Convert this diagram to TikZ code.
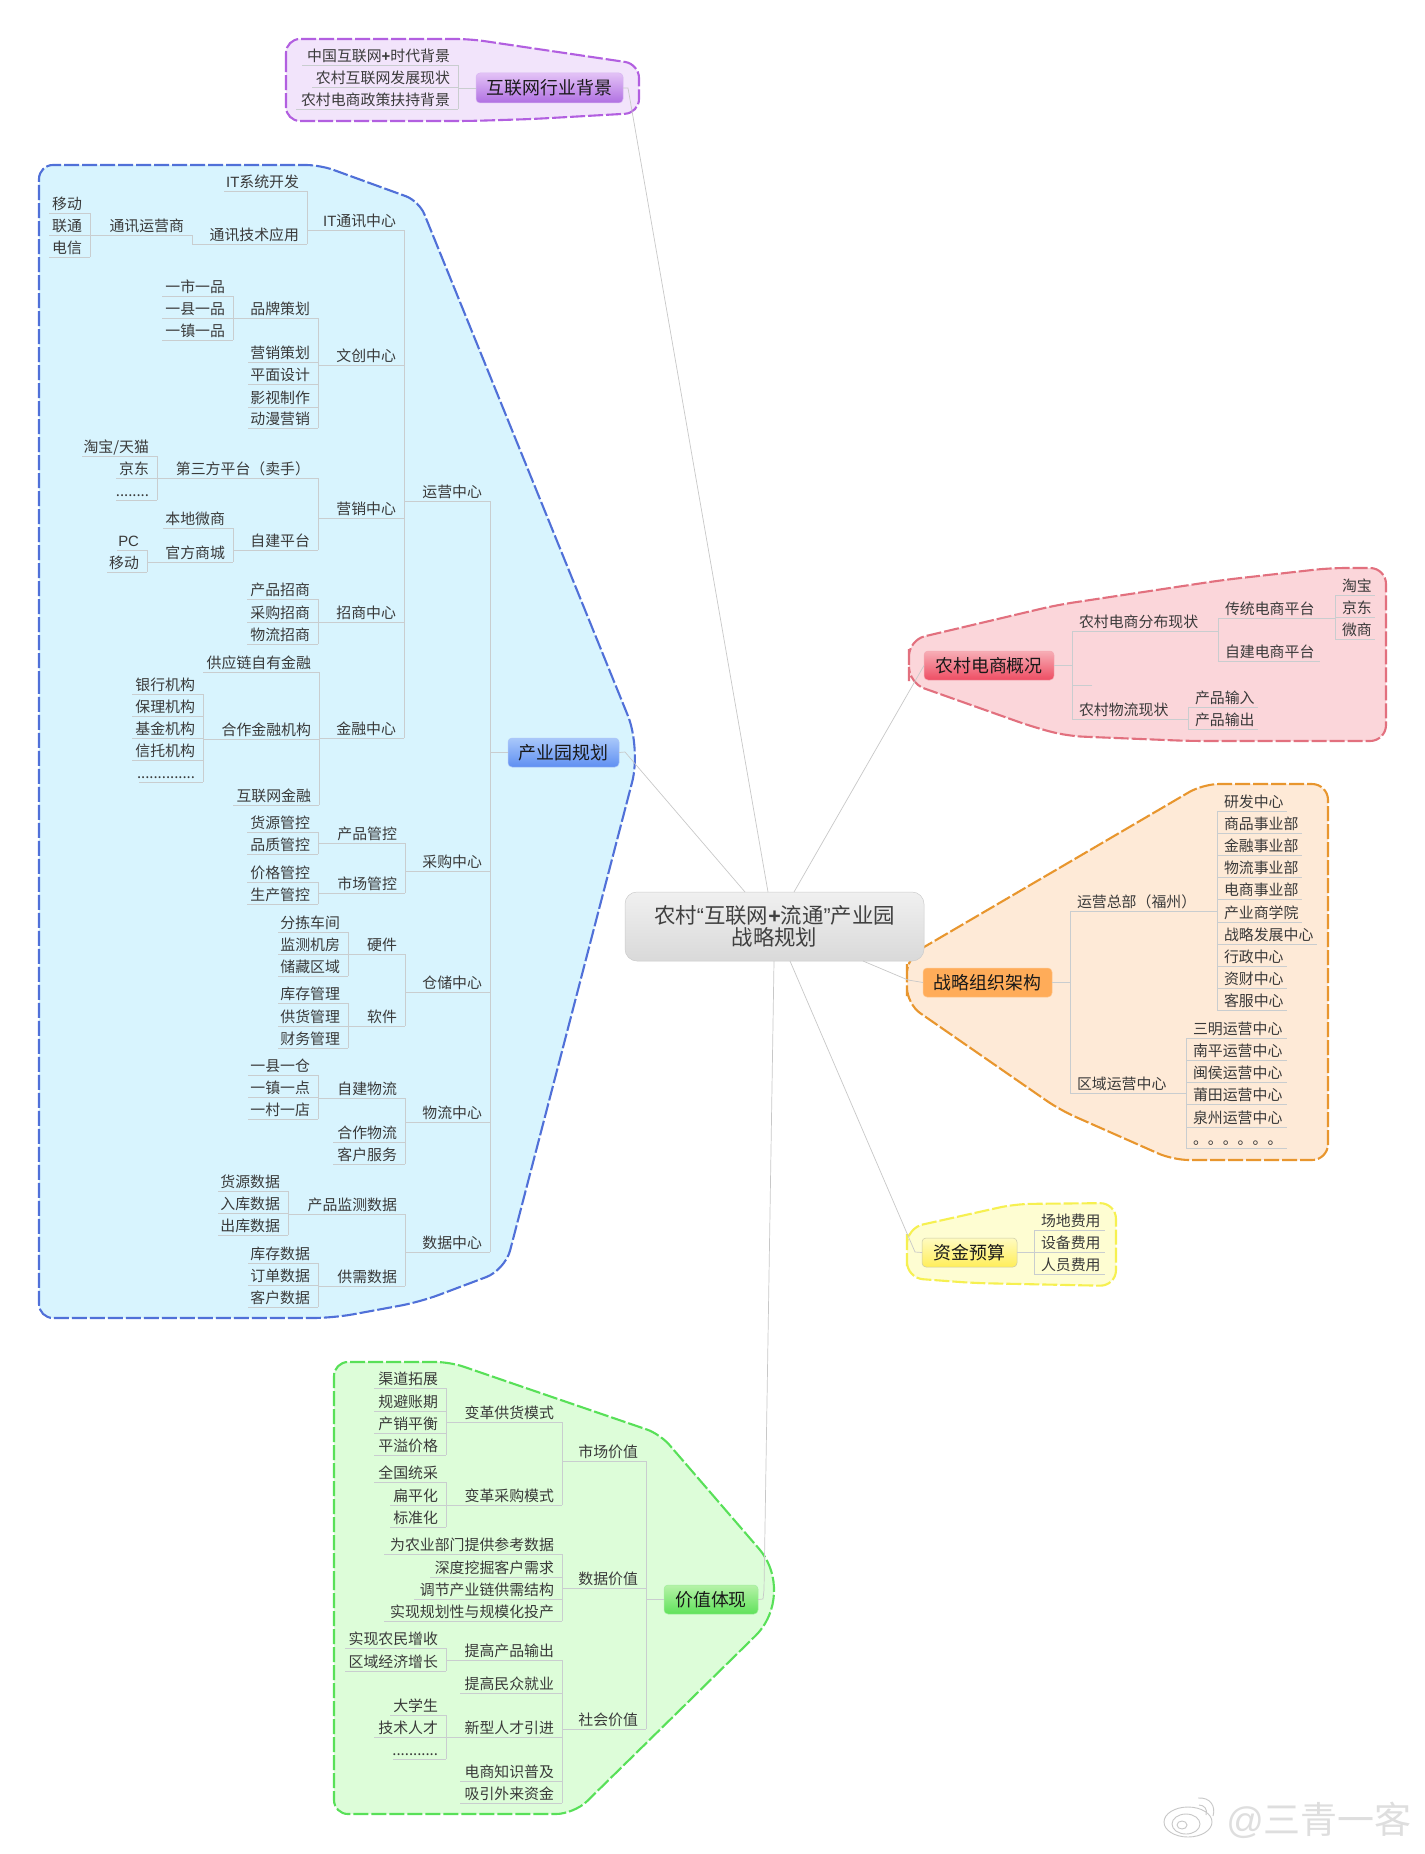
\documentclass[tikz,border=0pt]{standalone}
\usepackage{fontspec}
\setmainfont{Noto Sans CJK SC}
\setsansfont{Liberation Sans}
\definecolor{linegray}{HTML}{C9CDCF}
\definecolor{spokegray}{HTML}{C8C8C8}
\definecolor{txt}{HTML}{3A3A3A}
\definecolor{purL}{HTML}{B25FE0}\definecolor{purF}{HTML}{F2E4FB}
\definecolor{bluL}{HTML}{5070D8}\definecolor{bluF}{HTML}{D8F4FE}
\definecolor{pinL}{HTML}{E2707E}\definecolor{pinF}{HTML}{FBD6DA}
\definecolor{oraL}{HTML}{E8962E}\definecolor{oraF}{HTML}{FEEAD7}
\definecolor{yelL}{HTML}{F6F050}\definecolor{yelF}{HTML}{FEFDD2}
\definecolor{greL}{HTML}{58E058}\definecolor{greF}{HTML}{DDFDD9}
\tikzset{
  conn/.style={draw=linegray,line width=0.9pt},
  spoke/.style={draw=spokegray,line width=0.7pt},
  topic/.style={inner sep=0pt,outer sep=0pt,text height=12pt,text depth=3.1pt,text=txt,font=\fontsize{14.9pt}{15pt}\selectfont},
  mainbox/.style={rounded corners=4pt,inner sep=0pt,outer sep=0pt,anchor=center,text=black!90,font=\fontsize{17.9pt}{20pt}\selectfont,line width=0.5pt},
  zone/.style={line width=2.1pt,dash pattern=on 15pt off 3pt},
  wm/.style={draw=black!22,line width=0.9pt}
}
\newcommand{\topic}[5]{%
  \pgfmathsetmacro{\tw}{#3-#2}%
  \node[topic,anchor=south east] (#1) at (#3,#4) {\makebox[\tw pt][r]{#5\hspace{8pt}}};%
  \draw[conn] (#1.south west) -- (#1.south east);%
}
\newcommand{\rtopic}[5]{%
  \pgfmathsetmacro{\tw}{#3-#2}%
  \node[topic,anchor=south east] (#1) at (#3,#4) {\makebox[\tw pt][l]{\hspace{7pt}#5}};%
  \draw[conn] (#1.south west) -- (#1.south east);%
}
\newcommand{\kids}[2]{\foreach \cc in {#2} {\draw[conn] (#1) -| (\cc.south east);}}
\newcommand{\rkids}[2]{\foreach \cc in {#2} {\draw[conn] (#1) |- (\cc.south west);}}
\begin{document}
\begin{tikzpicture}[x=1pt,y=-1pt]
\useasboundingbox[fill=white] (0,0) rectangle (1424,1854);
% ---------- zones
\path[zone,draw=purL,fill=purF] (286,80) [rounded corners=14pt] -- (286,39) -- (470,39) -- (639,64) -- (639,113) -- (533,119) -- (470,121) -- (286,121) -- cycle;
\path[zone,draw=bluL,fill=bluF] (39,700) [rounded corners=14pt] -- (39,165) -- (320,165) -- (419,201) [rounded corners=35pt] -- (641,748) [rounded corners=20pt] -- (505,1270) -- (420,1302) -- (333,1318) [rounded corners=14pt] -- (39,1318) -- cycle;
\path[zone,draw=pinL,fill=pinF] (909,665) [rounded corners=16pt] -- (909,640) -- (1057,605) -- (1223,580) -- (1330,568) -- (1386,568) -- (1386,741) -- (1190,741) -- (1067,736) -- (1033,727) -- (909,683) -- cycle;
\path[zone,draw=oraL,fill=oraF] (907,980) [rounded corners=16pt] -- (907,957) -- (1073,860) -- (1203,784) -- (1328,784) -- (1328,1160) -- (1173,1160) -- (1060,1110) -- (907,1004) -- cycle;
\path[zone,draw=yelL,fill=yelF] (907,1250) [rounded corners=16pt] -- (907,1228) -- (1015,1204) -- (1116,1203) -- (1116,1286) -- (973,1283) -- (907,1278) -- cycle;
\path[zone,draw=greL,fill=greF] (334,1600) [rounded corners=14pt] -- (334,1362) -- (450,1362) -- (660,1434) [rounded corners=60pt] -- (798,1594) [rounded corners=18pt] -- (574,1814) [rounded corners=14pt] -- (334,1814) -- cycle;
% ---------- main boxes
\definecolor{p1c}{HTML}{E3C2F6}\definecolor{p2c}{HTML}{BE86EA}\definecolor{p3c}{HTML}{B070E2}
\definecolor{b1c}{HTML}{A9C8FA}\definecolor{b2c}{HTML}{6F9BF3}\definecolor{b3c}{HTML}{5F8FF2}
\definecolor{r1c}{HTML}{F7AEB6}\definecolor{r2c}{HTML}{EF6E7F}\definecolor{r3c}{HTML}{EE4D63}
\definecolor{g1c}{HTML}{B6F2A8}\definecolor{g2c}{HTML}{62E35C}\definecolor{g3c}{HTML}{5FE25A}
\definecolor{y1c}{HTML}{FFFBC0}\definecolor{y2c}{HTML}{FFF680}\definecolor{y3c}{HTML}{FFEE5A}
\definecolor{c1c}{HTML}{F0F0F0}\definecolor{c3c}{HTML}{D9D9D9}
\node[mainbox,top color=c1c,bottom color=c3c,draw=black!20,minimum width=299pt,minimum height=69pt,rounded corners=12pt,font=\fontsize{21.4pt}{21.5pt}\selectfont,align=center,text=black!75] (central) at (774.5,926.5) {农村{\sffamily“}互联网{\bfseries\sffamily +}流通{\sffamily”}产业园\\战略规划};
\node[mainbox,top color=p1c,middle color=p2c,bottom color=p3c,draw=p2c!60!white,minimum width=147pt,minimum height=30pt] (bp) at (549.5,88) {互联网行业背景};
\node[mainbox,top color=b1c,middle color=b2c,bottom color=b3c,draw=b2c!60!white,minimum width=111pt,minimum height=29pt] (bb) at (563.5,752.5) {产业园规划};
\node[mainbox,top color=r1c,middle color=r2c,bottom color=r3c,draw=r2c!60!white,minimum width=130pt,minimum height=29pt] (br) at (989,665.5) {农村电商概况};
\node[mainbox,fill=orange!65!white,draw=orange!45!white,minimum width=129pt,minimum height=29pt] (bo) at (987.5,982.5) {战略组织架构};
\node[mainbox,top color=y1c,middle color=y2c,bottom color=y3c,draw=black!20!yelF,minimum width=95pt,minimum height=29pt] (by) at (969.5,1252.5) {资金预算};
\node[mainbox,top color=g1c,middle color=g2c,bottom color=g3c,draw=g2c!60!white,minimum width=94pt,minimum height=29pt] (bg) at (711,1599.5) {价值体现};
% ---------- spokes
\coordinate (pk) at (628,88); \coordinate (bk) at (625,752);
\coordinate (ct1) at (768,892); \coordinate (ct2) at (745,892); \coordinate (ct3) at (794,892);
\coordinate (cb1) at (863,961); \coordinate (ok) at (908,980);
\coordinate (cb2) at (790,961); \coordinate (yk) at (915,1252);
\coordinate (cb3) at (774,961); \coordinate (gk1) at (764,1590); \coordinate (gk2) at (763,1599);
\draw[spoke] (bp.east) -- (pk) -- (ct1);
\draw[spoke] (bb.east) -- (bk) -- (ct2);
\draw[spoke] (br.west) -- (ct3);
\draw[spoke] (cb1) -- (ok) -- (bo.west);
\draw[spoke] (cb2) -- (yk) -- (by.west);
\draw[spoke] (cb3) -- (gk1) -- (gk2) -- (bg.east);
% ---------- purple topics
\topic{p1}{302}{458}{65}{中国互联网{\bfseries\sffamily +}时代背景}
\topic{p2}{312}{458}{87}{农村互联网发展现状}
\topic{p3}{296}{458}{109}{农村电商政策扶持背景}
\kids{bp.west}{p1,p2,p3}
% ---------- pink topics
\rtopic{r1}{1072}{1218}{631}{农村电商分布现状}
\rtopic{r2}{1072}{1188}{719}{农村物流现状}
\coordinate (rstub) at (1092,685);
\draw[conn] (rstub) -- (1072,685);
\draw[conn] (br.east) -| (r1.south west);
\draw[conn] (br.east) -| (r2.south west);
\rtopic{r11}{1218}{1335}{618}{传统电商平台}
\rtopic{r12}{1218}{1320}{661}{自建电商平台}
\rkids{r1.south east}{r11,r12}
\rtopic{r111}{1335}{1375}{595}{淘宝}
\rtopic{r112}{1335}{1375}{617}{京东}
\rtopic{r113}{1335}{1375}{639}{微商}
\rkids{r11.south east}{r111,r112,r113}
\rtopic{r21}{1188}{1258}{707}{产品输入}
\rtopic{r22}{1188}{1258}{729}{产品输出}
\rkids{r2.south east}{r21,r22}
% ---------- orange topics
\rtopic{o1}{1070}{1217}{911}{运营总部（福州）}
\rtopic{o2}{1070}{1186}{1093}{区域运营中心}
\draw[conn] (bo.east) -| (o1.south west);
\draw[conn] (bo.east) -| (o2.south west);
\rtopic{o11}{1217}{1287}{811}{研发中心}
\rtopic{o12}{1217}{1302}{833}{商品事业部}
\rtopic{o13}{1217}{1302}{855}{金融事业部}
\rtopic{o14}{1217}{1302}{877}{物流事业部}
\rtopic{o15}{1217}{1302}{899}{电商事业部}
\rtopic{o16}{1217}{1302}{922}{产业商学院}
\rtopic{o17}{1217}{1317}{944}{战略发展中心}
\rtopic{o18}{1217}{1287}{966}{行政中心}
\rtopic{o19}{1217}{1287}{988}{资财中心}
\rtopic{o110}{1217}{1287}{1010}{客服中心}
\rkids{o1.south east}{o11,o110}
\rtopic{o21}{1186}{1287}{1038}{三明运营中心}
\rtopic{o22}{1186}{1287}{1060}{南平运营中心}
\rtopic{o23}{1186}{1287}{1082}{闽侯运营中心}
\rtopic{o24}{1186}{1287}{1104}{莆田运营中心}
\rtopic{o25}{1186}{1287}{1127}{泉州运营中心}
\rtopic{o26}{1186}{1287}{1148}{。。。。。。}
\rkids{o2.south east}{o21,o26}
% ---------- yellow topics
\rtopic{y1}{1034}{1105}{1230}{场地费用}
\rtopic{y2}{1034}{1105}{1252}{设备费用}
\rtopic{y3}{1034}{1105}{1274}{人员费用}
\foreach \cc in {y1,y2,y3} {\draw[conn] (by.east) -| (\cc.south west);}
% ---------- blue: level 2
\topic{a1}{405}{490}{501}{运营中心}
\topic{a2}{405}{490}{871}{采购中心}
\topic{a3}{405}{490}{992}{仓储中心}
\topic{a4}{405}{490}{1122}{物流中心}
\topic{a5}{405}{490}{1252}{数据中心}
\kids{bb.west}{a1,a2,a3,a4,a5}
% level 3 of operations
\topic{b1}{307}{404}{230}{{\sffamily IT}通讯中心}
\topic{b2}{318}{404}{365}{文创中心}
\topic{b3}{318}{404}{518}{营销中心}
\topic{b4}{319}{404}{622}{招商中心}
\topic{b5}{319}{404}{738}{金融中心}
\kids{a1.south west}{b1,b2,b3,b4,b5}
% IT
\topic{c1}{224}{307}{191}{{\sffamily IT}系统开发}
\topic{c2}{192}{307}{244}{通讯技术应用}
\kids{b1.south west}{c1,c2}
\topic{c3}{91}{192}{235}{通讯运营商}
\kids{c2.south west}{c3}
\topic{c31}{49}{90}{213}{移动}
\topic{c32}{49}{90}{235}{联通}
\topic{c33}{49}{90}{257}{电信}
\kids{c3.south west}{c31,c32,c33}
% creative
\topic{d1}{233}{318}{318}{品牌策划}
\topic{d2}{248}{318}{362}{营销策划}
\topic{d3}{248}{318}{384}{平面设计}
\topic{d4}{248}{318}{407}{影视制作}
\topic{d5}{248}{318}{428}{动漫营销}
\kids{b2.south west}{d1,d2,d3,d4,d5}
\topic{d11}{162}{233}{296}{一市一品}
\topic{d12}{162}{233}{318}{一县一品}
\topic{d13}{162}{233}{340}{一镇一品}
\kids{d1.south west}{d11,d12,d13}
% marketing
\topic{e1}{157}{318}{478}{第三方平台（卖手）}
\topic{e2}{233}{318}{550}{自建平台}
\kids{b3.south west}{e1,e2}
\topic{e11}{82}{157}{456}{淘宝/天猫}
\topic{e12}{116}{157}{478}{京东}
\topic{e13}{116}{157}{500}{........}
\kids{e1.south west}{e11,e12,e13}
\topic{e21}{163}{233}{528}{本地微商}
\topic{e22}{147}{233}{562}{官方商城}
\kids{e2.south west}{e21,e22}
\topic{e221}{117}{147}{550}{{\sffamily PC}}
\topic{e222}{107}{147}{572}{移动}
\kids{e22.south west}{e221,e222}
% investment
\topic{f1}{247}{318}{599}{产品招商}
\topic{f2}{247}{318}{622}{采购招商}
\topic{f3}{247}{318}{644}{物流招商}
\kids{b4.south west}{f1,f2,f3}
% finance
\topic{g1}{203}{319}{672}{供应链自有金融}
\topic{g2}{203}{319}{739}{合作金融机构}
\topic{g3}{233}{319}{805}{互联网金融}
\kids{b5.south west}{g1,g2,g3}
\topic{g21}{132}{203}{694}{银行机构}
\topic{g22}{132}{203}{716}{保理机构}
\topic{g23}{132}{203}{738}{基金机构}
\topic{g24}{132}{203}{760}{信托机构}
\topic{g25}{139}{203}{782}{..............}
\kids{g2.south west}{g21,g22,g23,g24,g25}
% purchasing
\topic{h1}{318}{405}{843}{产品管控}
\topic{h2}{318}{405}{893}{市场管控}
\kids{a2.south west}{h1,h2}
\topic{h11}{247}{318}{832}{货源管控}
\topic{h12}{247}{318}{854}{品质管控}
\kids{h1.south west}{h11,h12}
\topic{h21}{247}{318}{882}{价格管控}
\topic{h22}{247}{318}{904}{生产管控}
\kids{h2.south west}{h21,h22}
% warehouse
\topic{i1}{348}{405}{954}{硬件}
\topic{i2}{348}{405}{1026}{软件}
\kids{a3.south west}{i1,i2}
\topic{i11}{278}{348}{932}{分拣车间}
\topic{i12}{278}{348}{954}{监测机房}
\topic{i13}{278}{348}{976}{储藏区域}
\kids{i1.south west}{i11,i12,i13}
\topic{i21}{278}{348}{1003}{库存管理}
\topic{i22}{278}{348}{1026}{供货管理}
\topic{i23}{278}{348}{1048}{财务管理}
\kids{i2.south west}{i21,i22,i23}
% logistics
\topic{j1}{318}{405}{1098}{自建物流}
\topic{j2}{333}{405}{1142}{合作物流}
\topic{j3}{333}{405}{1164}{客户服务}
\kids{a4.south west}{j1,j2,j3}
\topic{j11}{248}{318}{1075}{一县一仓}
\topic{j12}{248}{318}{1097}{一镇一点}
\topic{j13}{248}{318}{1119}{一村一店}
\kids{j1.south west}{j11,j12,j13}
% data
\topic{k1}{288}{405}{1214}{产品监测数据}
\topic{k2}{318}{405}{1286}{供需数据}
\kids{a5.south west}{k1,k2}
\topic{k11}{218}{288}{1191}{货源数据}
\topic{k12}{218}{288}{1213}{入库数据}
\topic{k13}{218}{288}{1235}{出库数据}
\kids{k1.south west}{k11,k12,k13}
\topic{k21}{248}{318}{1263}{库存数据}
\topic{k22}{248}{318}{1285}{订单数据}
\topic{k23}{248}{318}{1307}{客户数据}
\kids{k2.south west}{k21,k22,k23}
% ---------- green topics
\topic{m1}{562}{646}{1461}{市场价值}
\topic{m2}{562}{646}{1588}{数据价值}
\topic{m3}{562}{646}{1729}{社会价值}
\kids{bg.west}{m1,m2,m3}
\topic{n1}{446}{562}{1422}{变革供货模式}
\topic{n2}{446}{562}{1505}{变革采购模式}
\kids{m1.south west}{n1,n2}
\topic{n3}{384}{562}{1554}{为农业部门提供参考数据}
\topic{n4}{430}{562}{1577}{深度挖掘客户需求}
\topic{n5}{414}{562}{1599}{调节产业链供需结构}
\topic{n6}{384}{562}{1621}{实现规划性与规模化投产}
\kids{m2.south west}{n3,n4,n5,n6}
\topic{n7}{446}{562}{1660}{提高产品输出}
\topic{n8}{460}{562}{1693}{提高民众就业}
\topic{n9}{446}{562}{1737}{新型人才引进}
\topic{n10}{460}{562}{1781}{电商知识普及}
\topic{n11}{460}{562}{1803}{吸引外来资金}
\kids{m3.south west}{n7,n8,n9,n10,n11}
\topic{q1}{374}{446}{1388}{渠道拓展}
\topic{q2}{374}{446}{1411}{规避账期}
\topic{q3}{374}{446}{1433}{产销平衡}
\topic{q4}{374}{446}{1455}{平溢价格}
\kids{n1.south west}{q1,q2,q3,q4}
\topic{q5}{374}{446}{1482}{全国统采}
\topic{q6}{390}{446}{1505}{扁平化}
\topic{q7}{390}{446}{1527}{标准化}
\kids{n2.south west}{q5,q6,q7}
\topic{q8}{345}{446}{1648}{实现农民增收}
\topic{q9}{345}{446}{1671}{区域经济增长}
\kids{n7.south west}{q8,q9}
\topic{q10}{390}{446}{1715}{大学生}
\topic{q11}{374}{446}{1737}{技术人才}
\topic{q12}{393}{446}{1759}{...........}
\kids{n9.south west}{q10,q11,q12}
% ---------- watermark
\node[anchor=east,inner sep=0pt,text=black!13,font=\fontsize{37pt}{40pt}\selectfont] (mark) at (1412,1820) {{\sffamily @}三青一客};
\draw[wm,fill=white] (1188,1822) ellipse [x radius=24,y radius=15];
\draw[wm] (1186,1824) ellipse [x radius=14,y radius=10];
\draw[wm] (1182,1825) ellipse [x radius=5,y radius=4];
\draw[wm] (1198,1798) .. controls (1210,1797) and (1216,1806) .. (1213,1816);
\draw[wm] (1199,1805) .. controls (1204,1805) and (1208,1809) .. (1206,1815);
\end{tikzpicture}
\end{document}
